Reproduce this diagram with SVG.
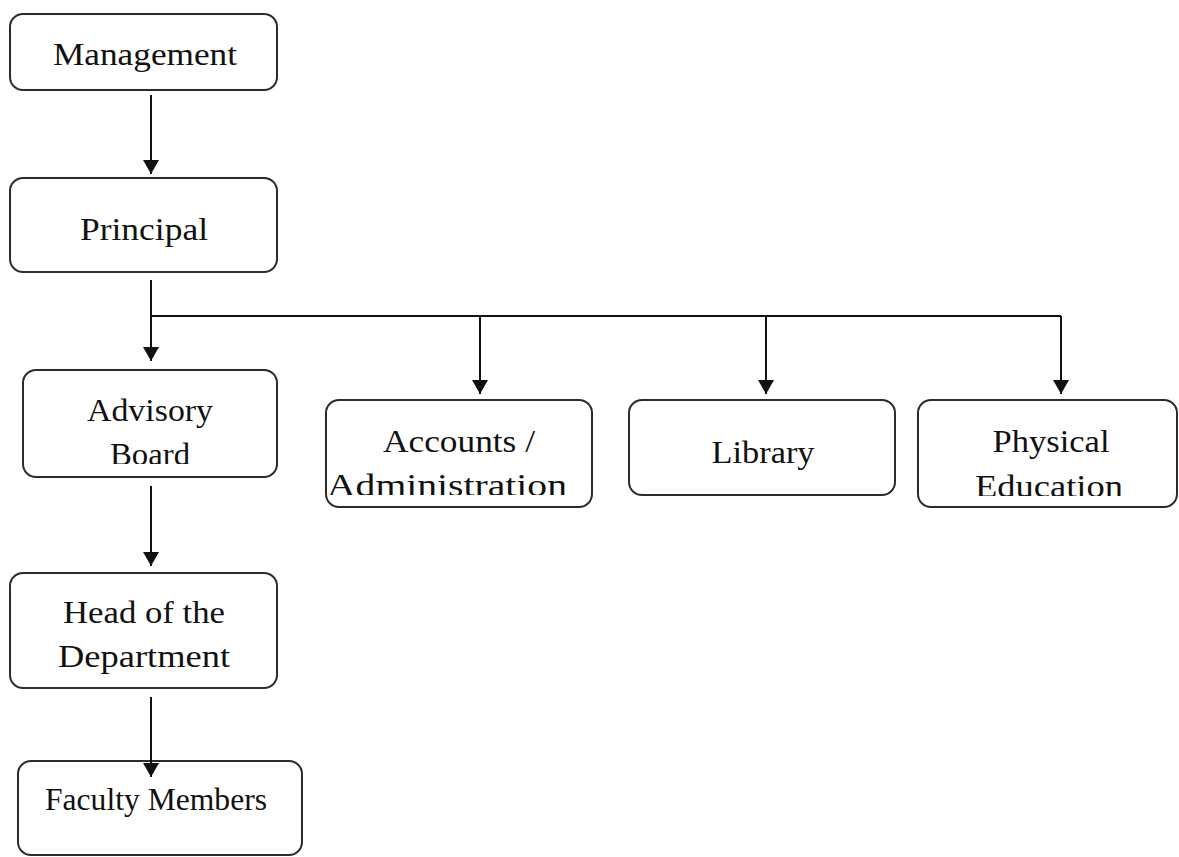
<svg xmlns="http://www.w3.org/2000/svg" width="1179" height="857" viewBox="0 0 1179 857">
<style>
.box{fill:#ffffff;stroke:#2b2b2b;stroke-width:2}
.lbl{font-family:"Liberation Serif","Times New Roman",serif;font-size:32px;fill:#111111;text-anchor:middle}
.con{fill:none;stroke:#111111;stroke-width:2}
</style>
<defs>
<marker id="arr" markerUnits="userSpaceOnUse" markerWidth="16" markerHeight="16" refX="14" refY="8" orient="auto">
<path d="M0,0 L14,8 L0,16 z" fill="#111111"/>
</marker>
<clipPath id="clipAdv"><rect x="23" y="370" width="254" height="94"/></clipPath>
<clipPath id="clipAcc"><rect x="326" y="400" width="266" height="95"/></clipPath>
<clipPath id="clipPhy"><rect x="918" y="400" width="260" height="96"/></clipPath>
</defs>
<rect width="1179" height="857" fill="#ffffff"/>
<g id="management">
<rect class="box" x="10" y="14" width="267" height="76" rx="13"/>
<text class="lbl" x="145" y="65" textLength="184" lengthAdjust="spacingAndGlyphs">Management</text>
</g>
<g id="principal">
<rect class="box" x="10" y="178" width="267" height="94" rx="13"/>
<text class="lbl" x="144" y="240" textLength="128" lengthAdjust="spacingAndGlyphs">Principal</text>
</g>
<g id="advisory-board">
<rect class="box" x="23" y="370" width="254" height="107" rx="13"/>
<g clip-path="url(#clipAdv)">
<text class="lbl" x="150" y="421" textLength="126" lengthAdjust="spacingAndGlyphs">Advisory</text>
<text class="lbl" x="150" y="465" textLength="80" lengthAdjust="spacingAndGlyphs">Board</text>
</g>
</g>
<g id="accounts-administration">
<rect class="box" x="326" y="400" width="266" height="107" rx="13"/>
<g clip-path="url(#clipAcc)">
<text class="lbl" x="459" y="452" textLength="152" lengthAdjust="spacingAndGlyphs">Accounts /</text>
<text class="lbl" x="447" y="496" textLength="240" lengthAdjust="spacingAndGlyphs">Administration</text>
</g>
</g>
<g id="library">
<rect class="box" x="629" y="400" width="266" height="95" rx="13"/>
<text class="lbl" x="763" y="463" textLength="103" lengthAdjust="spacingAndGlyphs">Library</text>
</g>
<g id="physical-education">
<rect class="box" x="918" y="400" width="259" height="107" rx="13"/>
<g clip-path="url(#clipPhy)">
<text class="lbl" x="1051" y="452" textLength="117" lengthAdjust="spacingAndGlyphs">Physical</text>
<text class="lbl" x="1049" y="497" textLength="148" lengthAdjust="spacingAndGlyphs">Education</text>
</g>
</g>
<g id="head-of-department">
<rect class="box" x="10" y="573" width="267" height="115" rx="13"/>
<text class="lbl" x="144" y="623" textLength="162" lengthAdjust="spacingAndGlyphs">Head of the</text>
<text class="lbl" x="144" y="667" textLength="172" lengthAdjust="spacingAndGlyphs">Department</text>
</g>
<g id="faculty-members">
<rect class="box" x="18" y="761" width="284" height="94" rx="13"/>
<text class="lbl" x="156" y="810" textLength="222" lengthAdjust="spacingAndGlyphs">Faculty Members</text>
</g>
<g id="connectors">
<path class="con" d="M151,95 L151,174" marker-end="url(#arr)"/>
<path class="con" d="M151,280 L151,361" marker-end="url(#arr)"/>
<path class="con" d="M151,316 L1061,316"/>
<path class="con" d="M480,316 L480,394" marker-end="url(#arr)"/>
<path class="con" d="M766,316 L766,394" marker-end="url(#arr)"/>
<path class="con" d="M1061,316 L1061,394" marker-end="url(#arr)"/>
<path class="con" d="M151,486 L151,566" marker-end="url(#arr)"/>
<path class="con" d="M151,697 L151,777" marker-end="url(#arr)"/>
</g>
</svg>
